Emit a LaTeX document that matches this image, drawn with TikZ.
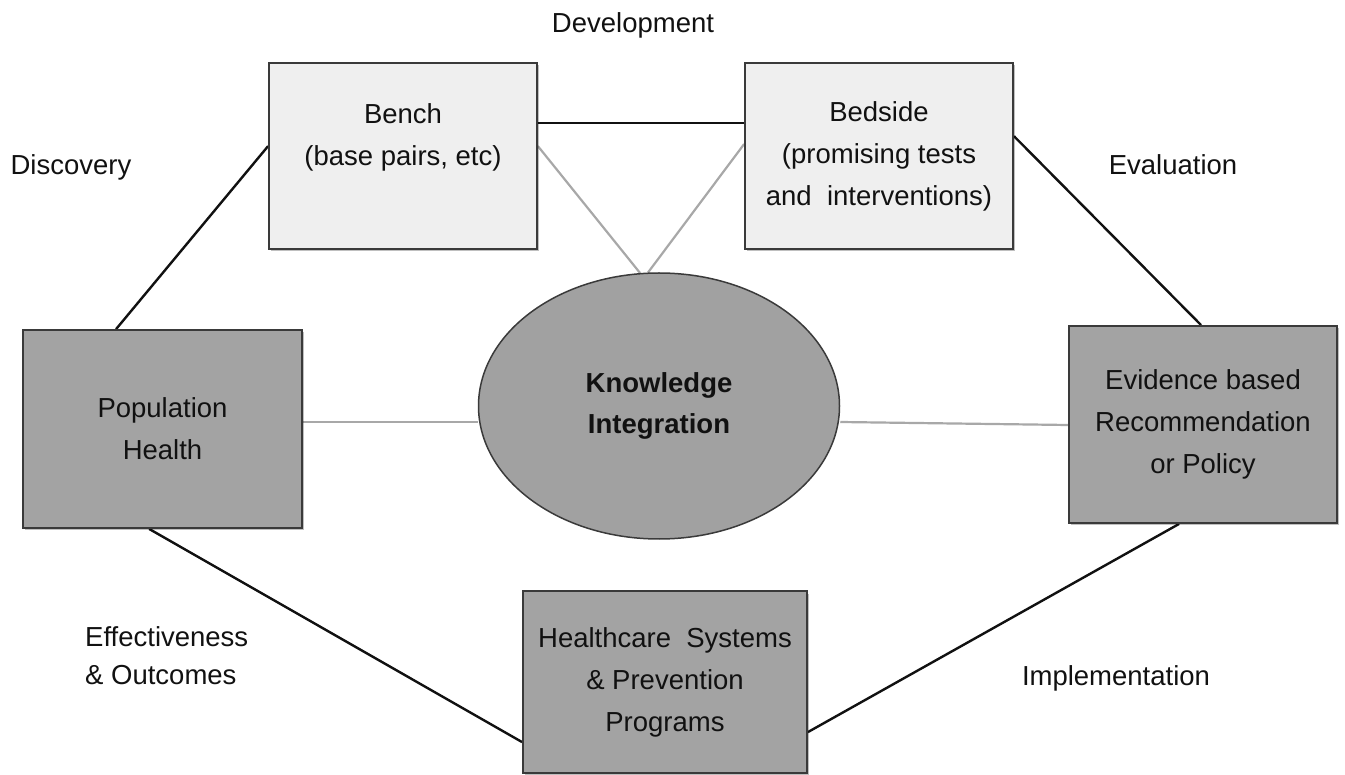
\documentclass[tikz,border=0pt]{standalone}
\usepackage{fontspec}
\setmainfont{Liberation Sans}
\usetikzlibrary{shapes.geometric,calc,shadows,backgrounds}
\definecolor{boxlight}{HTML}{EFEFEF}
\definecolor{boxdark}{HTML}{A3A3A3}
\definecolor{ovalfill}{HTML}{A1A1A1}
\definecolor{edgecol}{HTML}{3A3A3A}
\definecolor{linkgray}{HTML}{A8A8A8}
\definecolor{inkcol}{HTML}{111111}
\tikzset{
  basebox/.style={draw=edgecol, line width=1.8pt, rectangle, align=center,
    inner sep=0pt, text=inkcol,
    font=\fontsize{27.5}{42}\selectfont,
    drop shadow={shadow xshift=1.5pt, shadow yshift=-2.5pt, fill=black, opacity=0.25}},
  lightbox/.style={basebox, fill=boxlight},
  darkbox/.style={basebox, fill=boxdark},
  stagelabel/.style={text=inkcol, font=\fontsize{27.5}{38}\selectfont, inner sep=0pt},
  darklink/.style={draw=inkcol, line width=2.4pt},
  lightlink/.style={draw=linkgray, line width=2.2pt},
}
\begin{document}
\begin{tikzpicture}[x=1pt, y=-1pt]
\useasboundingbox (0,0) rectangle (1345,775);

% boxes of the cycle
\node[lightbox, minimum width=268pt, minimum height=186pt] (bench) at (403,156)
  {Bench\\(base pairs, etc)\\\mbox{}};
\node[lightbox, minimum width=268pt, minimum height=186pt] (bedside) at (879,156)
  {Bedside\\(promising tests\\and\ \ interventions)};
\node[darkbox, minimum width=279pt, minimum height=198pt] (pop) at (162.5,429)
  {Population\\Health};
\node[darkbox, minimum width=268pt, minimum height=197pt] (evid) at (1203,424.5)
  {Evidence based\\Recommendation\\or Policy};
\node[darkbox, minimum width=284pt, minimum height=182pt] (hc) at (665,682)
  {Healthcare\ \ Systems\\\& Prevention\\Programs};

% central oval
\node[ellipse, draw=edgecol, line width=1.5pt, fill=ovalfill,
  minimum width=361pt, minimum height=266pt, inner sep=0pt, align=center,
  text=inkcol, font=\bfseries\fontsize{27.5}{41.5}\selectfont] (ki) at (659,406)
  {Knowledge\\Integration};

% stage labels
\node[stagelabel] (ldev) at (633,25) {Development};
\node[stagelabel] (ldisc) at (71,167) {Discovery};
\node[stagelabel] (leval) at (1173,165) {Evaluation};
\node[stagelabel, align=left, anchor=west] (leff) at (85,656) {Effectiveness\\\& Outcomes};
\node[stagelabel] (limpl) at (1116,678) {Implementation};

% attachment points on the borders
\coordinate (popTop) at ($(pop.north west)+(94,0)$);
\coordinate (popBot) at ($(pop.south west)+(127,0)$);
\coordinate (popR) at ($(pop.east)+(0,-7)$);
\coordinate (benchL) at ($(bench.north west)+(0,84)$);
\coordinate (benchR1) at ($(bench.north east)+(0,61)$);
\coordinate (benchR2) at ($(bench.north east)+(0,84)$);
\coordinate (bedL1) at ($(bedside.north west)+(0,61)$);
\coordinate (bedL2) at ($(bedside.north west)+(0,82)$);
\coordinate (bedR) at ($(bedside.north east)+(0,74)$);
\coordinate (evTop) at ($(evid.north west)+(133,0)$);
\coordinate (evBot) at ($(evid.south west)+(111,0)$);
\coordinate (evL) at ($(evid.west)+(0,0.5)$);
\coordinate (hcL) at ($(hc.north west)+(0,152)$);
\coordinate (hcR) at ($(hc.north east)+(0,142)$);
\coordinate (kiTopA) at ($(ki.north)+(-19,0.7)$);
\coordinate (kiTopB) at ($(ki.north)+(-11,0.3)$);
\coordinate (kiL) at ($(ki.west)+(0,16)$);
\coordinate (kiR) at ($(ki.east)+(0,16)$);

\begin{scope}[on background layer]
  % outer cycle
  \draw[darklink] (popTop) -- (benchL);
  \draw[darklink] (benchR1) -- (bedL1);
  \draw[darklink] (bedR) -- (evTop);
  \draw[darklink] (evBot) -- (hcR);
  \draw[darklink] (hcL) -- (popBot);
  % links to the centre
  \draw[lightlink] (benchR2) -- (kiTopA);
  \draw[lightlink] (bedL2) -- (kiTopB);
  \draw[lightlink] (popR) -- (kiL);
  \draw[lightlink] (kiR) -- (evL);
\end{scope}
\end{tikzpicture}
\end{document}
